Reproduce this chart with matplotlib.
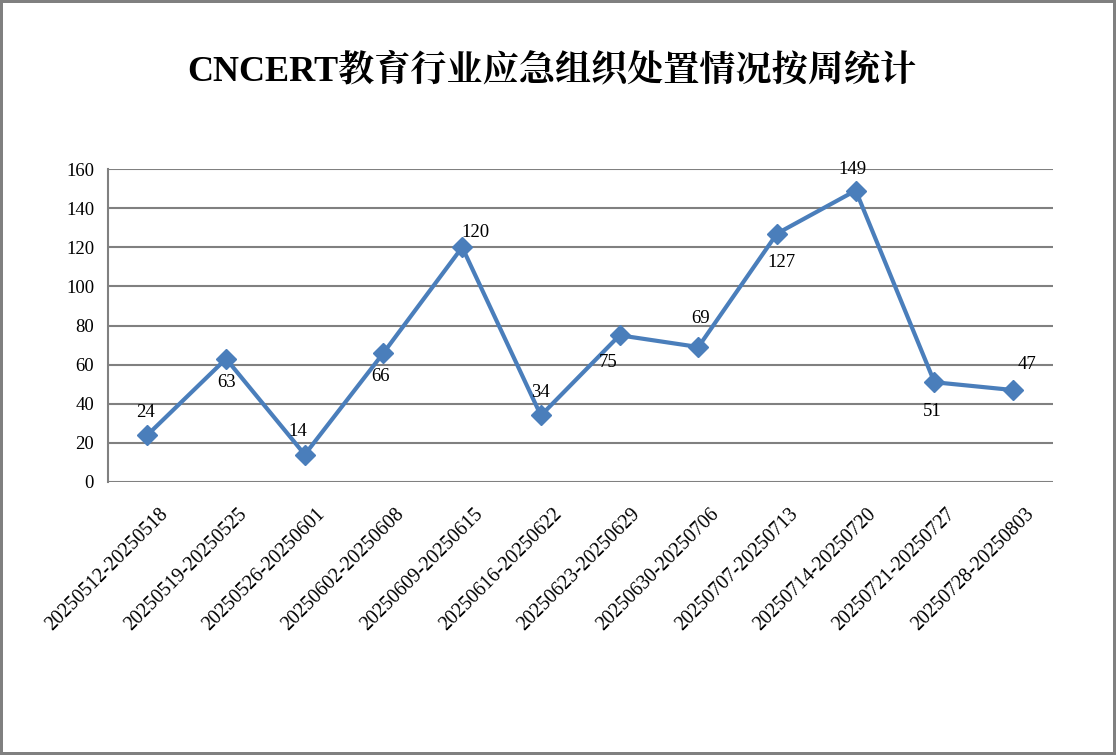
import matplotlib
matplotlib.use('Agg')
import matplotlib.pyplot as plt
from matplotlib.transforms import ScaledTranslation

weeks = ['20250512-20250518', '20250519-20250525', '20250526-20250601',
         '20250602-20250608', '20250609-20250615', '20250616-20250622',
         '20250623-20250629', '20250630-20250706', '20250707-20250713',
         '20250714-20250720', '20250721-20250727', '20250728-20250803']
counts = [24, 63, 14, 66, 120, 34, 75, 69, 127, 149, 51, 47]
y_ticks = [0, 20, 40, 60, 80, 100, 120, 140, 160]
# label offsets in pixels (dx, dy up)
label_offsets = [(-2, 23), (1, -24), (-7, 23), (-3, -24), (13, 15), (0, 23),
                 (-11, -27), (2, 29), (4, -29), (-3, 21), (-2, -29), (14, 26)]

serif = ['Liberation Serif', 'Noto Serif CJK SC', 'Noto Sans CJK SC', 'DejaVu Serif']
plt.rcParams['font.family'] = serif

grey = '#808080'
blue = '#4A7EBB'

fig = plt.figure(figsize=(11.16, 7.55), dpi=100)
fig.patch.set_edgecolor(grey)
fig.patch.set_linewidth(3)
ax = fig.add_axes([108 / 1116, 1 - 482 / 755, 944.5 / 1116, 313 / 755])

x = list(range(len(weeks)))
ax.plot(x, counts, color=blue, lw=3, marker='D', ms=10, mfc=blue, mec=blue,
        solid_joinstyle='miter', zorder=3)

for xi, v, (dx, dy) in zip(x, counts, label_offsets):
    ax.annotate(str(v), (xi, v), xytext=(dx * 0.72, dy * 0.72), textcoords='offset points',
                ha='center', va='center', fontsize=13.5, color='black', zorder=4)

ax.set_xlim(-0.5, len(weeks) - 0.5)
ax.set_ylim(0, 160)
ax.set_yticks(y_ticks)
ax.yaxis.grid(True, color=grey, lw=1.5)
ax.set_axisbelow(True)
for s in ['top', 'right', 'bottom']:
    ax.spines[s].set_visible(False)
ax.spines['left'].set_color(grey)
ax.spines['left'].set_linewidth(1.5)
ax.tick_params(axis='y', length=0, pad=10, labelsize=13.5)
ax.tick_params(axis='x', length=0, labelsize=14.2)

ax.set_xticks(x)
ax.set_xticklabels(weeks, rotation=45, ha='right', va='center', rotation_mode='anchor')
shift = ScaledTranslation(18 / 100, -25 / 100, fig.dpi_scale_trans)
for lab in ax.get_xticklabels():
    lab.set_transform(lab.get_transform() + shift)

fig.text(552 / 1116, 1 - 70 / 755, 'CNCERT教育行业应急组织处置情况按周统计',
         ha='center', va='center', fontsize=26, fontweight='bold', family=serif)

fig.savefig('out.png', dpi=100)
